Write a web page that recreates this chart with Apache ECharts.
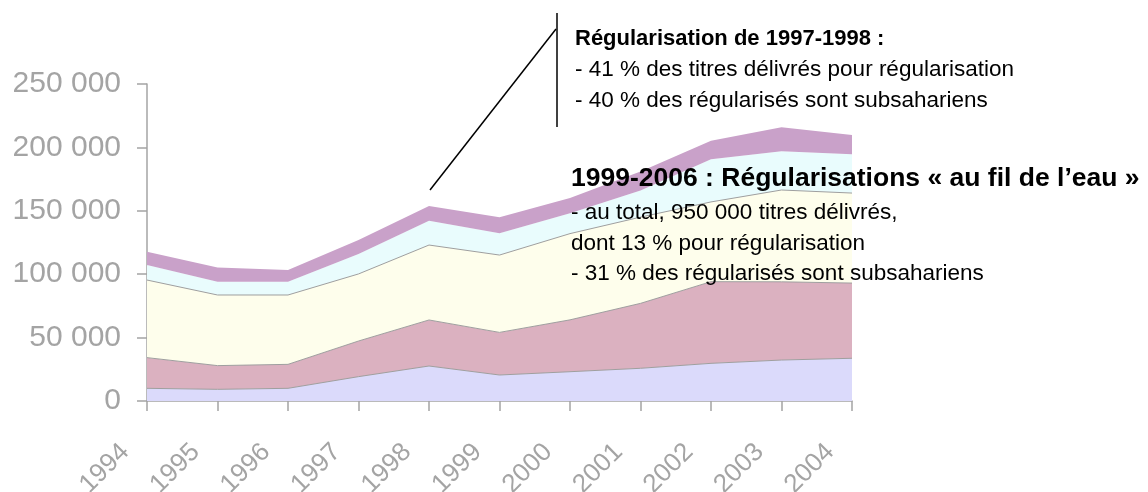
<!DOCTYPE html>
<html>
<head>
<meta charset="utf-8">
<script src="https://cdn.jsdelivr.net/npm/echarts@6/dist/echarts.min.js"></script>
<style>
  html, body { margin: 0; padding: 0; background: #fff; }
  #chart { width: 1148px; height: 492px; }
</style>
</head>
<body>
<div id="chart"></div>
<script>
// Years on the x axis
const years = ['1994', '1995', '1996', '1997', '1998', '1999', '2000', '2001', '2002', '2003', '2004'];

// Stacked layers, bottom to top
const layer1 = [10000, 9200, 10000, 19200, 27600, 20500, 23100, 25800, 29700, 32300, 33700];
const layer2 = [24200, 18700, 18900, 28100, 36300, 33600, 40900, 51200, 64400, 61700, 59300];
const layer3 = [61200, 55700, 54700, 52900, 59100, 61000, 68000, 68000, 62900, 72400, 71000];
const layer4 = [11900, 10500, 10500, 15700, 19200, 17100, 16000, 21000, 33600, 30600, 30500];
const layer5 = [10400, 11100, 9200, 11100, 11600, 12700, 12000, 15000, 14700, 18800, 15300];

// Y axis ticks
const yTicks = [0, 50000, 100000, 150000, 200000, 250000];

// Annotation texts
const note1 = [
  'Régularisation de 1997-1998 :',
  '- 41 % des titres délivrés pour régularisation',
  '- 40 % des régularisés sont subsahariens'
];
const note2 = [
  '1999-2006 : Régularisations « au fil de l’eau »',
  '- au total, 950 000 titres délivrés,',
  'dont 13 % pour régularisation',
  '- 31 % des régularisés sont subsahariens'
];

const FONT = '"Liberation Sans", Arial, sans-serif';
const GREY = '#a4a4a4';

const myChart = echarts.init(document.getElementById('chart'), null, { renderer: 'canvas' });

function fmt(v) {
  return String(v).replace(/\B(?=(\d{3})+(?!\d))/g, ' ');
}

function layer(name, data, color, lineColor, lineWidth) {
  return {
    name: name,
    type: 'line',
    stack: 'total',
    data: data,
    symbol: 'none',
    smooth: false,
    lineStyle: { color: lineColor, width: lineWidth },
    areaStyle: { color: color, opacity: 1 },
    itemStyle: { color: color }
  };
}

// annotation text lines
const textEls = [];
note1.forEach((t, i) => {
  textEls.push({
    type: 'text',
    z: 100,
    x: 575,
    y: 39 + i * 31,
    style: {
      text: t,
      fill: '#000',
      font: (i === 0 ? 'bold 22px ' : '22.5px ') + FONT,
      verticalAlign: 'middle'
    }
  });
});
note2.forEach((t, i) => {
  textEls.push({
    type: 'text',
    z: 100,
    x: 571,
    y: i === 0 ? 179 : 213 + (i - 1) * 30.5,
    style: {
      text: t,
      fill: '#000',
      font: (i === 0 ? 'bold 26.5px ' : '22.5px ') + FONT,
      verticalAlign: 'middle'
    }
  });
});

const option = {
  backgroundColor: '#fff',
  animation: false,
  grid: {
    left: 147,
    right: 296,
    top: 84,
    bottom: 91,
    containLabel: false,
    outerBoundsMode: 'none'
  },
  xAxis: {
    type: 'category',
    data: years,
    boundaryGap: false,
    axisLine: { lineStyle: { color: GREY, width: 1.5 } },
    axisTick: { show: true, length: 10, alignWithLabel: true, lineStyle: { color: GREY, width: 1.5 } },
    axisLabel: {
      rotate: 45,
      margin: 25,
      padding: [0, 31, 6, 0],
      color: GREY,
      fontSize: 26,
      fontFamily: FONT,
      interval: 0
    }
  },
  yAxis: {
    type: 'value',
    min: yTicks[0],
    max: yTicks[yTicks.length - 1],
    interval: 50000,
    splitLine: { show: false },
    axisLine: { show: true, lineStyle: { color: GREY, width: 1.5 } },
    axisTick: { show: true, length: 10, lineStyle: { color: GREY, width: 1.5 } },
    axisLabel: {
      margin: 26,
      color: GREY,
      fontSize: 30,
      fontFamily: FONT,
      formatter: fmt
    }
  },
  series: [
    layer('Série 1', layer1, '#dbdafb', '#9f9f9f', 1),
    layer('Série 2', layer2, '#dbb1c0', '#9f9f9f', 1),
    layer('Série 3', layer3, '#fefeec', '#9f9f9f', 1),
    layer('Série 4', layer4, '#e9fcfd', '#e9fcfd', 0),
    layer('Série 5', layer5, '#c9a1c9', '#c9a1c9', 0)
  ],
  graphic: [
    {
      type: 'line',
      z: 100,
      shape: { x1: 430, y1: 190, x2: 556, y2: 29 },
      style: { stroke: '#000', lineWidth: 1.5 }
    },
    {
      type: 'line',
      z: 100,
      shape: { x1: 557, y1: 13, x2: 557, y2: 127 },
      style: { stroke: '#000', lineWidth: 1.5 }
    }
  ].concat(textEls)
};

myChart.setOption(option);
</script>
</body>
</html>
